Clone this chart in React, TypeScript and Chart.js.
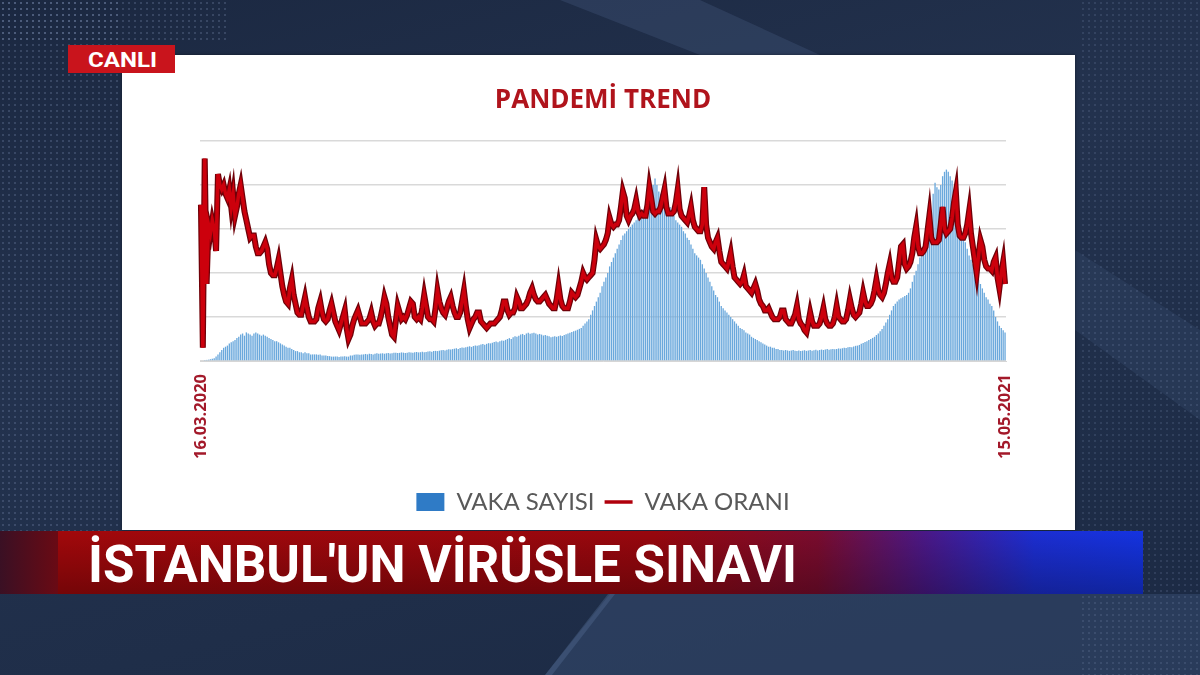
import React, { useEffect, useRef } from "react";
import { Chart, registerables } from "chart.js";

Chart.register(...registerables);

// ---------- chart texts ----------
const TITLE = "PANDEMİ TREND";
const START_LABEL = "16.03.2020";
const END_LABEL = "15.05.2021";
const TICK_LABELS = [START_LABEL, END_LABEL];
const SERIES_BARS = "VAKA SAYISI";
const SERIES_LINE = "VAKA ORANI";
const BADGE_TEXT = "CANLI";
const HEADLINE = "İSTANBUL'UN VİRÜSLE SINAVI";

// ---------- daily values (0..100 relative scale) ----------
const VAKA_SAYISI = [
  0.3, 0.3, 0.4, 0.5, 0.6, 0.8, 1,
  1.3, 2, 3, 4, 5, 6, 6.5,
  7, 8, 8.5, 9, 9.5, 10.5, 11,
  12, 12.5, 11.5, 13, 12.5, 12, 11.5,
  12.5, 13, 12.5, 12, 11.5, 12, 11.5,
  11, 10.5, 10, 9.5, 9, 9, 8.5,
  8, 7.5, 7, 6.5, 6, 6, 5.5,
  5, 4.5, 4.5, 4, 4, 3.5, 4,
  3.5, 3.5, 3, 3, 3, 3, 2.8,
  3, 2.5, 2.5, 2.5, 2.3, 2.2, 2,
  2, 2, 2, 1.8, 2, 2, 2.2,
  2, 2, 2.5, 2.5, 2.8, 3, 3,
  2.8, 3, 3, 3.2, 3, 3.3, 3.2,
  3, 3.3, 3.5, 3.3, 3.4, 3.5, 3.3,
  3.5, 3.6, 3.4, 3.5, 3.7, 3.8, 3.6,
  3.7, 3.9, 3.8, 3.6, 3.8, 4, 3.9,
  3.8, 4, 4.1, 3.9, 4, 4.2, 4,
  4.1, 4.3, 4.4, 4.2, 4.5, 4.6, 4.5,
  4.7, 4.9, 5, 4.8, 5.1, 5.3, 5.2,
  5.4, 5.6, 5.8, 5.5, 5.9, 6.1, 6,
  6.2, 6.5, 6.7, 6.4, 6.8, 7, 6.9,
  7.2, 7.5, 7.7, 7.4, 7.8, 8.1, 8,
  8.3, 8.6, 8.9, 8.5, 9, 9.3, 9.2,
  9.6, 10, 10.4, 10, 10.8, 11.2, 11,
  11.5, 12, 12.3, 11.8, 12.5, 12.8, 12.4,
  12.6, 12.8, 12.5, 12, 12.3, 12, 11.6,
  11.8, 11.5, 11.2, 10.8, 11, 11.2, 11,
  11.3, 11.6, 11.4, 11.8, 12.2, 12.5, 12.8,
  13.2, 13.5, 13.8, 14.2, 14.6, 15, 16,
  17, 18, 19, 21, 23, 25, 27,
  29, 31, 34, 36, 38, 40, 43,
  45, 47, 49, 51, 53, 55, 57,
  58, 59, 60, 61, 62, 63, 64,
  66, 67, 68, 69, 70, 72, 73,
  78, 80, 83, 80, 77, 76, 78,
  79, 75, 72, 70, 68, 66, 64,
  63, 62, 61, 59, 58, 56, 55,
  53, 51, 49, 48, 47, 46, 44,
  42, 40, 38, 36, 34, 32, 30,
  29, 27, 25, 24, 23, 22, 21,
  20, 19, 18, 17, 16, 15, 14.5,
  14, 13, 12.5, 12, 11, 10.5, 10,
  9.5, 9, 8.5, 8, 7.5, 7, 6.5,
  6.5, 6, 6, 5.5, 5.5, 5, 5,
  4.8, 5, 4.8, 4.6, 4.8, 5, 4.7,
  4.6, 4.8, 4.5, 4.7, 4.9, 4.6, 4.8,
  5, 4.7, 4.9, 5.1, 4.8, 5, 5.2,
  5, 5.2, 5.4, 5.1, 5.3, 5.5, 5.3,
  5.5, 5.7, 5.6, 5.8, 6, 5.9, 6.2,
  6.4, 6.3, 6.6, 6.9, 7, 7.3, 7.8,
  8.2, 8.6, 9, 9.5, 10, 10.5, 11,
  11.8, 12.5, 13.5, 14.5, 16, 17.5, 19,
  21, 23, 25, 26, 27, 28, 28.5,
  29, 29.5, 30, 31, 33, 36, 39,
  41, 44, 47, 49, 52, 55, 58,
  62, 68, 76, 81, 79, 78, 80,
  84, 86, 87, 86, 84, 82, 76,
  70, 66, 62, 59, 56, 54, 51,
  48, 46, 44, 41, 39, 37, 35,
  33, 31, 29, 28, 26, 25, 23,
  20, 18, 16, 15, 14, 13,
];

const VAKA_ORANI = [
  71, 6, 92, 35, 62, 58, 64,
  60, 50, 85, 80, 78, 80, 76,
  74, 78, 70, 76, 66, 70, 76,
  80, 74, 68, 64, 60, 56, 57,
  57, 52, 49, 49, 50, 52, 54,
  51, 44, 40, 39, 39, 42, 46,
  40, 34, 30, 27, 26, 33, 37,
  30, 26, 22, 21, 21, 25, 29,
  24, 20, 18, 18, 18, 19, 24,
  27, 22, 19, 18, 19, 23, 26,
  22, 18, 16, 14, 17, 20, 23,
  15, 10, 12, 16, 19, 21, 23,
  20, 17, 17, 17, 18, 19, 22,
  18, 16, 17, 17, 20, 24, 29,
  26, 20, 16, 12, 11, 18, 25,
  22, 19, 20, 19, 21, 24, 27,
  26, 20, 19, 20, 19, 24, 30,
  25, 20, 19, 19, 18, 24, 32,
  27, 24, 22, 21, 24, 27, 29,
  25, 22, 20, 20, 22, 27, 32,
  25, 19, 15, 17, 19, 20, 22,
  22, 18, 17, 16, 15, 16, 17,
  17, 17, 18, 19, 20, 23, 27,
  27, 23, 21, 22, 22, 24, 29,
  27, 24, 24, 25, 26, 28, 31,
  33, 30, 28, 27, 27, 28, 29,
  30, 28, 26, 25, 24, 24, 28,
  34, 28, 25, 24, 24, 24, 27,
  31, 30, 29, 30, 33, 36, 40,
  38, 37, 38, 39, 40, 46, 55,
  52, 51, 52, 53, 55, 58, 65,
  62, 61, 62, 62, 64, 70, 77,
  74, 66, 64, 66, 67, 69, 73,
  68, 66, 67, 66, 66, 71, 79,
  74, 68, 67, 68, 68, 70, 74,
  78, 70, 67, 67, 67, 68, 72,
  78, 69, 66, 65, 64, 63, 66,
  70, 64, 61, 60, 59, 59, 62,
  79, 62, 56, 54, 52, 51, 54,
  56, 50, 45, 44, 43, 42, 45,
  49, 43, 38, 37, 36, 35, 36,
  39, 34, 33, 32, 31, 33, 35,
  32, 28, 26, 25, 23, 23, 24,
  22, 20, 19, 19, 19, 20, 23,
  23, 19, 18, 17, 17, 19, 21,
  25, 19, 17, 16, 14, 13, 17,
  22, 18, 16, 16, 16, 17, 20,
  24, 19, 17, 16, 16, 17, 20,
  25, 20, 19, 18, 18, 19, 23,
  28, 24, 21, 20, 21, 22, 26,
  31, 27, 25, 25, 26, 28, 32,
  37, 32, 30, 29, 31, 35, 40,
  44, 38, 36, 36, 38, 45, 52,
  53, 44, 42, 43, 45, 49, 56,
  61, 52, 49, 49, 50, 52, 59,
  66, 56, 54, 54, 54, 55, 62,
  70, 60, 58, 59, 60, 65, 72,
  77, 62, 57, 56, 56, 58, 62,
  68, 58, 52, 46, 40, 48, 55,
  52, 46, 43, 42, 42, 41, 45,
  47, 38, 33, 40, 45, 35,
];

const Y_MIN = 0;
const Y_MAX = 100;
const Y_STEP = 20;

function buildDayLabels(startLabel: string, count: number): string[] {
  const [d, m, y] = startLabel.split(".").map(Number);
  const base = Date.UTC(y, m - 1, d);
  const out: string[] = [];
  for (let i = 0; i < count; i++) {
    const dt = new Date(base + i * 86400000);
    const dd = String(dt.getUTCDate()).padStart(2, "0");
    const mm = String(dt.getUTCMonth() + 1).padStart(2, "0");
    out.push(`${dd}.${mm}.${dt.getUTCFullYear()}`);
  }
  return out;
}

const DAY_LABELS = buildDayLabels(START_LABEL, VAKA_ORANI.length);

function TrendChart() {
  const ref = useRef<HTMLCanvasElement | null>(null);

  useEffect(() => {
    if (!ref.current) return;
    const defaultLabels = (Chart as any).defaults.plugins.legend.labels.generateLabels;
    const chart = new Chart(ref.current, {
      type: "bar",
      data: {
        labels: DAY_LABELS,
        datasets: [
          {
            type: "bar",
            label: SERIES_BARS,
            data: VAKA_SAYISI,
            backgroundColor: "#6aa8dc",
            borderWidth: 0,
            barPercentage: 0.7,
            categoryPercentage: 1,
            pointStyle: "rect",
            order: 2,
          },
          {
            type: "line",
            label: "",
            data: VAKA_ORANI,
            borderColor: "#700008",
            borderWidth: 6,
            pointRadius: 0,
            tension: 0,
            order: 1,
          },
          {
            type: "line",
            label: SERIES_LINE,
            data: VAKA_ORANI,
            borderColor: "#cc000c",
            borderWidth: 3.5,
            pointRadius: 0,
            pointStyle: "line",
            tension: 0,
            order: 0,
          },
        ],
      } as any,
      options: {
        responsive: false,
        animation: false,
        devicePixelRatio: 1,
        layout: { padding: { top: 30, bottom: 6, left: 78, right: 69 } },
        plugins: {
          tooltip: { enabled: false },
          title: {
            display: true,
            text: TITLE,
            color: "#b0141c",
            font: { family: "'Open Sans'", size: 26, weight: "bold", lineHeight: 1.2 },
            padding: { top: 0, bottom: 24.8 },
          },
          legend: {
            position: "bottom",
            labels: {
              usePointStyle: true,
              pointStyleWidth: 28,
              boxHeight: 18,
              padding: 10,
              color: "#595959",
              font: { family: "Lato", size: 24 },
              filter: (item: any) => item.text !== "",
              sort: (a: any, b: any) => a.datasetIndex - b.datasetIndex,
              generateLabels: (c: any) => {
                const items = defaultLabels(c);
                items.forEach((it: any) => {
                  if (it.datasetIndex === 0) it.fillStyle = "#2f7bc6";
                  if (it.datasetIndex === 2) it.strokeStyle = "#b0000c";
                });
                return items;
              },
            },
          },
        },
        scales: {
          x: {
            grid: { display: false, drawTicks: false },
            border: { display: true, color: "#d6d6d6", width: 1 },
            ticks: {
              autoSkip: false,
              minRotation: 90,
              maxRotation: 90,
              padding: 13,
              color: "#a3192a",
              font: { family: "'Open Sans'", size: 16.5, weight: "bold" },
              callback: (_v: any, i: number) =>
                TICK_LABELS.includes(DAY_LABELS[i]) ? DAY_LABELS[i] : "",
            },
            afterFit: (scale: any) => {
              scale.height = 119;
            },
          },
          y: {
            min: Y_MIN,
            max: Y_MAX,
            grid: { color: "#d9d9d9", lineWidth: 1.5, drawTicks: false },
            border: { display: false },
            ticks: { display: false, stepSize: Y_STEP },
          },
        },
      } as any,
    });
    return () => chart.destroy();
  }, []);

  return (
    <canvas
      ref={ref}
      width={953}
      height={475}
      style={{ position: "absolute", left: 122, top: 55, width: 953, height: 475 }}
    />
  );
}

export default function App() {
  const dots = "radial-gradient(rgba(150,170,210,0.22) 1px, transparent 1.4px)";
  return (
    <div
      style={{
        position: "absolute",
        left: 0,
        top: 0,
        width: 1200,
        height: 675,
        overflow: "hidden",
        background: "linear-gradient(165deg, #1b2841 0%, #23324e 40%, #1f2e49 70%, #1b2943 100%)",
      }}
    >
      {/* background streaks */}
      <div style={{ position: "absolute", inset: 0, background: "rgba(70,90,125,0.35)", clipPath: "polygon(560px 0, 700px 0, 820px 55px, 700px 55px)" }} />
      <div style={{ position: "absolute", inset: 0, background: "rgba(55,75,110,0.35)", clipPath: "polygon(1075px 250px, 1200px 330px, 1200px 420px, 1075px 330px)" }} />
      <div style={{ position: "absolute", inset: 0, background: "rgba(60,82,120,0.45)", clipPath: "polygon(610px 594px, 1200px 594px, 1200px 675px, 545px 675px)" }} />
      <div style={{ position: "absolute", inset: 0, background: "rgba(90,115,155,0.35)", clipPath: "polygon(608px 594px, 615px 594px, 552px 675px, 545px 675px)" }} />
      {/* dot patterns */}
      <div style={{ position: "absolute", left: 0, top: 0, width: 122, height: 531, backgroundImage: dots, backgroundSize: "6px 6px" }} />
      <div style={{ position: "absolute", left: 0, top: 0, width: 230, height: 44, backgroundImage: dots, backgroundSize: "6px 6px" }} />
      <div style={{ position: "absolute", left: 1080, top: 0, width: 120, height: 675, backgroundImage: dots, backgroundSize: "6px 6px", opacity: 0.7 }} />

      {/* white slide panel */}
      <div
        style={{
          position: "absolute",
          left: 122,
          top: 55,
          width: 953,
          height: 475,
          background: "#ffffff",
          boxShadow: "0 0 3px rgba(0,0,0,0.4)",
        }}
      />
      <TrendChart />

      {/* live badge and headline */}
      <svg width={1200} height={675} style={{ position: "absolute", left: 0, top: 0, pointerEvents: "none" }}>
        <defs>
          <linearGradient id="band" x1="0" y1="0" x2="1" y2="0">
            <stop offset="0" stopColor="#a2080b" />
            <stop offset="0.55" stopColor="#98070e" />
            <stop offset="0.7" stopColor="#7a0c2e" />
            <stop offset="0.8" stopColor="#4a1888" />
            <stop offset="0.9" stopColor="#1c2ed2" />
            <stop offset="1" stopColor="#1433e0" />
          </linearGradient>
          <linearGradient id="bandShade" x1="0" y1="0" x2="0" y2="1">
            <stop offset="0" stopColor="#000" stopOpacity="0" />
            <stop offset="1" stopColor="#000" stopOpacity="0.28" />
          </linearGradient>
          <linearGradient id="leftFade" x1="0" y1="0" x2="1" y2="0">
            <stop offset="0" stopColor="#3a1024" />
            <stop offset="1" stopColor="#6a0a14" />
          </linearGradient>
        </defs>
        <rect x={68} y={45} width={107} height={28} fill="#c9141c" />
        <text x={88} y={67} fill="#ffffff" fontFamily="Roboto" fontWeight={700} fontSize={20} textLength={69} lengthAdjust="spacingAndGlyphs">
          {BADGE_TEXT}
        </text>
        <rect x={0} y={531} width={58} height={63} fill="url(#leftFade)" />
        <rect x={58} y={531} width={1085} height={63} fill="url(#band)" />
        <rect x={58} y={531} width={1085} height={63} fill="url(#bandShade)" />
        <text x={88} y={582} fill="#ffffff" fontFamily="Roboto" fontWeight={700} fontSize={51} textLength={709} lengthAdjust="spacingAndGlyphs">
          {HEADLINE}
        </text>
      </svg>
    </div>
  );
}
